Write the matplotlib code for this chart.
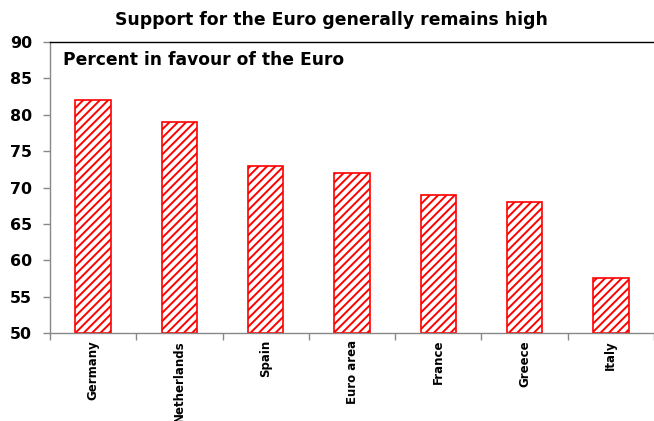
import matplotlib
matplotlib.use("Agg")
import matplotlib.pyplot as plt
import numpy as np

# -----------------------------------------------------------------------
# Data
# -----------------------------------------------------------------------
countries = ["Germany", "Netherlands", "Spain", "Euro area", "France", "Greece", "Italy"]
in_favour = [82, 79, 73, 72, 69, 68, 57.5]
y_ticks = [50, 55, 60, 65, 70, 75, 80, 85, 90]

plt.rcParams["font.family"] = ["DejaVu Sans"]
plt.rcParams["font.weight"] = "bold"
plt.rcParams["hatch.linewidth"] = 1.4

fig = plt.figure(figsize=(6.54, 4.21), dpi=100)
ax = fig.add_axes([0.0765, 0.209, 0.9235, 0.691])

x = np.arange(len(countries))
ax.bar(x, np.array(in_favour) - 50, bottom=50, width=0.41,
       facecolor="white", edgecolor="#ff0000", hatch="////", linewidth=1.2)

ax.set_xlim(-0.5, len(countries) - 0.5)
ax.set_ylim(50, 90)
ax.set_yticks(y_ticks)
ax.set_yticklabels([str(v) for v in y_ticks], fontsize=11.4, fontweight="bold")

# category labels centred, ticks at category boundaries
ax.set_xticks(x)
ax.set_xticklabels(countries, rotation=90, fontsize=8.5, fontweight="bold")
ax.tick_params(axis="x", which="major", length=0, pad=5)
ax.set_xticks(np.arange(len(countries) + 1) - 0.5, minor=True)
ax.tick_params(axis="x", which="minor", length=5, color="#888888", width=1)
ax.tick_params(axis="y", length=5, color="#888888", width=1, pad=8)

for side in ["left", "bottom"]:
    ax.spines[side].set_color("#888888")
    ax.spines[side].set_linewidth(1)
ax.spines["right"].set_visible(False)
ax.spines["top"].set_color("black")
ax.spines["top"].set_linewidth(1)

ax.text(0.022, 87.5, "Percent in favour of the Euro",
        transform=ax.get_yaxis_transform(), fontsize=12.3,
        fontweight="bold", va="center", ha="left")

fig.text(0.507, 0.952, "Support for the Euro generally remains high",
         fontsize=12.4, fontweight="bold", ha="center", va="center")

plt.savefig("out.png", dpi=100)
plt.close()
